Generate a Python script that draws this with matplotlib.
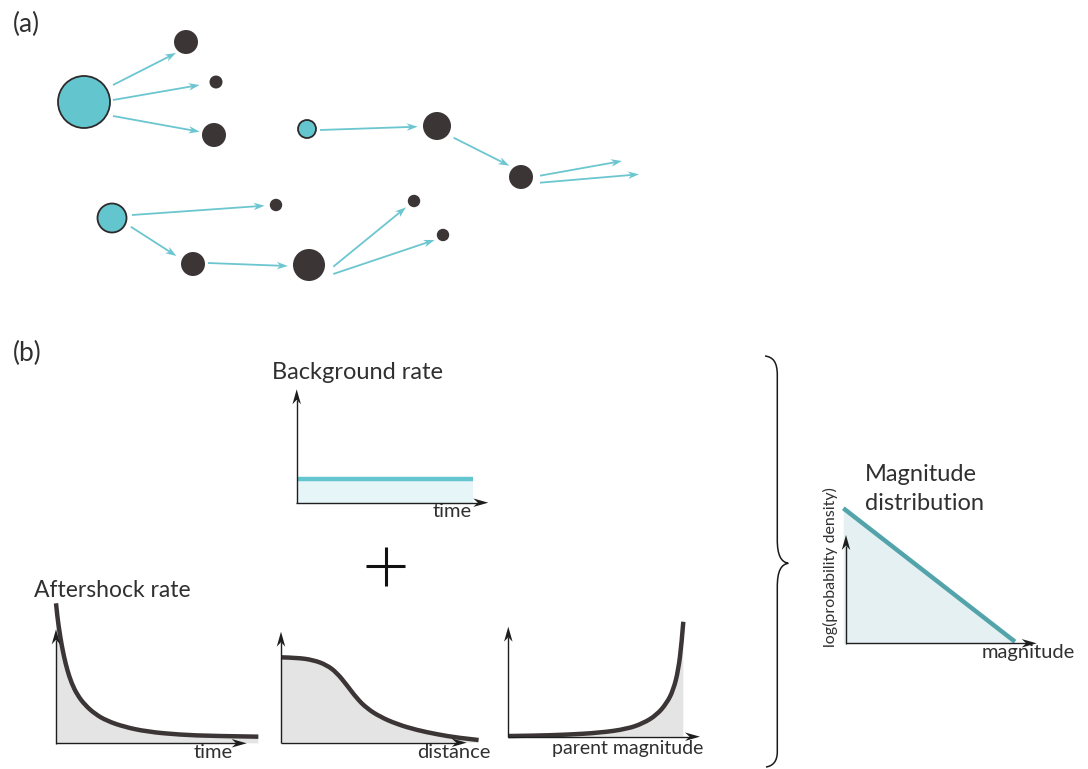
import numpy as np
import matplotlib
matplotlib.use("Agg")
import matplotlib.pyplot as plt
from matplotlib.patches import Circle, Polygon, PathPatch, Rectangle
from matplotlib.path import Path

W, H = 1088, 769

plt.rcParams['font.family'] = ['Lato', 'DejaVu Sans']

CYAN = '#63c6ce'
DARK = '#3b3536'
TEAL = '#52a4aa'
TEXT = '#303030'

# ---- (a) cascade of events: parents (cyan) and triggered events (dark)
node_x = [84, 186, 216, 214, 307, 437, 521, 112, 276, 414, 443, 193, 309]
node_y = [102, 42, 82, 135, 129, 126, 177, 218, 205, 201, 235, 264, 265]
node_r = [26, 12, 6.5, 12, 9, 14, 12, 14.5, 6.2, 6.2, 6.2, 12, 16]
node_is_parent = [1, 0, 0, 0, 1, 0, 0, 1, 0, 0, 0, 0, 0]

arrow_x0 = [113, 113, 113, 320, 453.6, 540, 540, 132, 130.8, 208, 333.3, 333.3]
arrow_y0 = [85, 100, 116, 130, 137.7, 175.7, 182.7, 215, 226.7, 263, 266.7, 274]
arrow_x1 = [176, 199.6, 199.6, 417.7, 509.3, 622, 639, 264.6, 176.4, 287.8, 406, 434.6]
arrow_y1 = [53, 85, 131.7, 126.7, 165.7, 161, 174.3, 205.7, 256, 266, 207.3, 240]

# ---- (b) schematic rate curves (x and y scaled to each small panel)
bg_time = [0.0, 0.919]
bg_rate = [0.206, 0.206]

aft_time = [0.0, 0.007, 0.017, 0.028, 0.042, 0.059, 0.082, 0.112, 0.152,
            0.205, 0.266, 0.354, 0.476, 0.650, 0.825, 1.061]
aft_rate = [1.228, 1.111, 0.994, 0.877, 0.760, 0.643, 0.526, 0.424, 0.336,
            0.257, 0.198, 0.146, 0.102, 0.075, 0.064, 0.058]

dist_r = [0.0, 0.085, 0.174, 0.246, 0.300, 0.354, 0.408, 0.462, 0.533,
          0.623, 0.731, 0.840, 0.948, 1.064]
dist_rate = [0.769, 0.766, 0.745, 0.700, 0.631, 0.520, 0.400, 0.310, 0.234,
             0.168, 0.114, 0.076, 0.045, 0.024]

par_mag = [0.0, 0.130, 0.305, 0.478, 0.618, 0.704, 0.774, 0.826, 0.861,
           0.887, 0.904, 0.913]
par_rate = [0.006, 0.009, 0.018, 0.036, 0.070, 0.122, 0.198, 0.304, 0.425,
            0.606, 0.849, 1.045]

mag_m = [-0.014, 0.886]
mag_logpdf = [1.247, 0.015]

# panel frames: origin x, origin y (pixels, y down), width, height
panels = {
    'bg':   (296.7, 502.7, 191.6, 113.4),
    'aft':  (56.0, 743.3, 190.7, 114.0),
    'dist': (281.0, 742.7, 185.7, 111.0),
    'par':  (508.3, 736.7, 191.7, 110.0),
    'mag':  (846.0, 643.3, 190.7, 108.3),
}

fig = plt.figure(figsize=(W / 100, H / 100), dpi=100)
base = fig.add_axes([0, 0, 1, 1])
base.set_xlim(0, W)
base.set_ylim(H, 0)
base.axis('off')


def px_arrow(ax, x0, y0, x1, y1, color, lw, hl, hw, z=3):
    # straight shaft plus a notched (stealth) head, in pixel coordinates
    u = np.array([x1 - x0, y1 - y0], dtype=float)
    u /= np.hypot(*u)
    n = np.array([-u[1], u[0]])
    tip = np.array([x1, y1], dtype=float)
    back = tip - u * hl
    notch = tip - u * hl * 0.7
    ax.plot([x0, notch[0]], [y0, notch[1]], color=color, lw=lw,
            solid_capstyle='butt', transform=base.transData, clip_on=False, zorder=z)
    ax.add_patch(Polygon([tip, back + n * hw / 2, notch, back - n * hw / 2],
                         closed=True, fc=color, ec='none',
                         transform=base.transData, clip_on=False, zorder=z))


def smooth_path(xs, ys, close=False):
    # quadratic segments through the midpoints of the traced points
    pts = np.column_stack([xs, ys]).astype(float)
    verts = [pts[0]]
    codes = [Path.MOVETO]
    for i in range(1, len(pts) - 1):
        mid = (pts[i] + pts[i + 1]) / 2
        if i == len(pts) - 2:
            mid = pts[i + 1]
        verts += [pts[i], mid]
        codes += [Path.CURVE3, Path.CURVE3]
    if close:
        verts += [(pts[-1][0], 0), (pts[0][0], 0), pts[0]]
        codes += [Path.LINETO, Path.LINETO, Path.CLOSEPOLY]
    return Path(verts, codes)


def draw_curve(ax, xs, ys, color, fill, clip_x=None):
    area = PathPatch(smooth_path(xs, ys, close=True), fc=fill, ec='none',
                     zorder=1, clip_on=False)
    ax.add_patch(area)
    if clip_x is not None:
        area.set_clip_path(Rectangle((0, 0), clip_x, 1.3, transform=ax.transData))
    ax.add_patch(PathPatch(smooth_path(xs, ys), fc='none', ec=color, lw=3.2,
                           capstyle='butt', joinstyle='round', zorder=2, clip_on=False))


# (a)
base.text(13, 24, '(a)', fontsize=19, color=TEXT, va='center', ha='left')
for x0, y0, x1, y1 in zip(arrow_x0, arrow_y0, arrow_x1, arrow_y1):
    px_arrow(base, x0, y0, x1, y1, '#6cc6d0', 1.3, 11, 7.5)
for x, y, r, p in zip(node_x, node_y, node_r, node_is_parent):
    if p:
        base.add_patch(Circle((x, y), r, fc=CYAN, ec='#2e2a2b', lw=1.3, zorder=4))
    else:
        base.add_patch(Circle((x, y), r, fc=DARK, ec='none', zorder=4))

# (b)
base.text(13, 353, '(b)', fontsize=19, color=TEXT, va='center', ha='left')


def panel_axes(key):
    ox, oy, w, h = panels[key]
    ax = fig.add_axes([ox / W, 1 - oy / H, w / W, h / H])
    ax.set_xlim(0, 1)
    ax.set_ylim(0, 1)
    ax.axis('off')
    # coordinate arrows
    px_arrow(ax, ox, oy + 0.5, ox, oy - h, '#1e1e1e', 1.0, 15, 8.5, z=5)
    px_arrow(ax, ox - 0.5, oy, ox + w, oy, '#1e1e1e', 1.0, 15, 8.5, z=5)
    return ax


ax = panel_axes('bg')
ax.fill_between(bg_time, bg_rate, 0, color='#e6f5f7', lw=0, zorder=1)
ax.plot(bg_time, bg_rate, color=CYAN, lw=3.2, solid_capstyle='butt', clip_on=False, zorder=2)

ax = panel_axes('aft')
draw_curve(ax, aft_time, aft_rate, DARK, '#e4e4e4', clip_x=0.966)

ax = panel_axes('dist')
draw_curve(ax, dist_r, dist_rate, DARK, '#e4e4e4', clip_x=1.0)

ax = panel_axes('par')
draw_curve(ax, par_mag, par_rate, DARK, '#e4e4e4')

ax = panel_axes('mag')
ax.fill_between(mag_m, mag_logpdf, 0, color='#e4f0f1', lw=0, zorder=1, clip_on=False)
ax.plot(mag_m, mag_logpdf, color=TEAL, lw=3.2, solid_capstyle='butt', clip_on=False, zorder=2)

# titles and axis names
base.text(272, 379, 'Background rate', fontsize=17, color=TEXT, va='baseline')
base.text(34, 597, 'Aftershock rate', fontsize=16.5, color=TEXT, va='baseline')
base.text(865, 481, 'Magnitude', fontsize=17, color=TEXT, va='baseline')
base.text(865, 510, 'distribution', fontsize=17, color=TEXT, va='baseline')
base.text(433, 517, 'time', fontsize=14.5, color=TEXT, va='baseline')
base.text(194, 758, 'time', fontsize=14.5, color=TEXT, va='baseline')
base.text(417, 758, 'distance', fontsize=14.5, color=TEXT, va='baseline')
base.text(552, 754, 'parent magnitude', fontsize=14, color=TEXT, va='baseline')
base.text(982, 658, 'magnitude', fontsize=14.5, color=TEXT, va='baseline')
base.text(830, 567, 'log(probability density)', fontsize=11.5, color=TEXT,
          rotation=90, ha='center', va='center')

# plus sign between background and aftershock terms
base.plot([366, 405], [566, 566], color='#111111', lw=2.2, solid_capstyle='butt')
base.plot([385.5, 385.5], [547, 586], color='#111111', lw=2.2, solid_capstyle='butt')

# curly brace in front of the magnitude distribution
brace = Path(
    [(765, 356), (773, 357), (777.3, 362), (777.3, 375),
     (777.3, 540),
     (777.3, 555), (781, 562), (788.3, 563.3),
     (781, 564.5), (777.3, 571), (777.3, 587),
     (777.3, 752),
     (777.3, 761), (773, 766), (766, 767)],
    [Path.MOVETO, Path.CURVE4, Path.CURVE4, Path.CURVE4,
     Path.LINETO,
     Path.CURVE4, Path.CURVE4, Path.CURVE4,
     Path.CURVE4, Path.CURVE4, Path.CURVE4,
     Path.LINETO,
     Path.CURVE4, Path.CURVE4, Path.CURVE4])
base.add_patch(PathPatch(brace, fc='none', ec='#1a1a1a', lw=1.1))

fig.savefig('out.png', dpi=100)
